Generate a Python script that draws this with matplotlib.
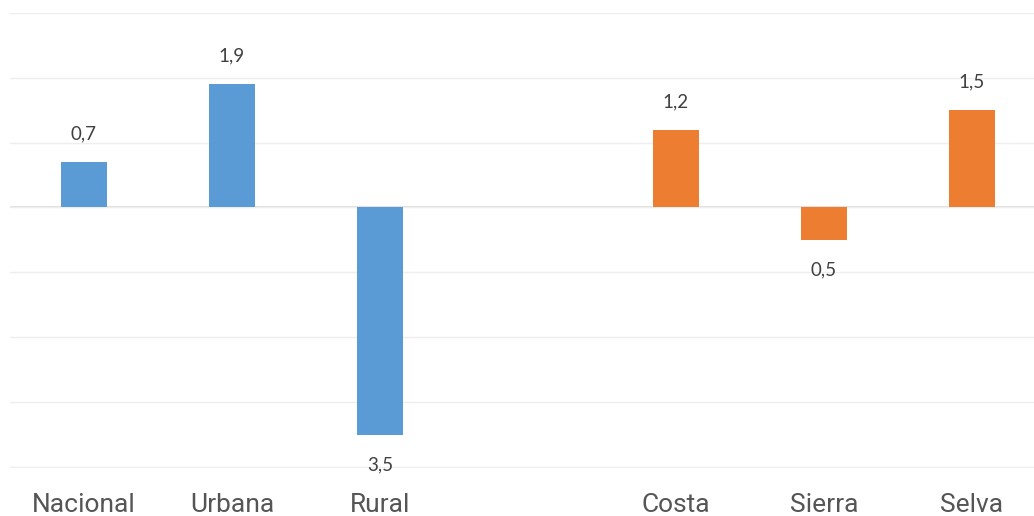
import numpy as np
import matplotlib.pyplot as plt

# Variación por ámbito (urbano/rural) y por región natural
categories = ['Nacional', 'Urbana', 'Rural', 'Costa', 'Sierra', 'Selva']
values = [0.7, 1.9, -3.5, 1.2, -0.5, 1.5]
groups = ['ambito', 'ambito', 'ambito', 'region', 'region', 'region']
group_colors = {'ambito': '#5b9bd5', 'region': '#ed7d31'}

# leave an empty slot between the two groups
x = np.arange(len(categories)) + np.array([0 if g == 'ambito' else 1 for g in groups])

fig = plt.figure(figsize=(10.34, 5.16), dpi=100)
ax = fig.add_axes([10 / 1034, 1 - 468 / 516, 1024 / 1034, (468 - 12.7) / 516])

ax.bar(x, values, width=0.31, color=[group_colors[g] for g in groups], zorder=3)

for xi, v in zip(x, values):
    label = f'{abs(v):.1f}'.replace('.', ',')
    off = 20 if v >= 0 else -21.5
    ax.annotate(label, (xi, v), xytext=(0, off), textcoords='offset points',
                ha='center', va='center', fontsize=13.5, color='#404040',
                family='Lato')

ax.set_xlim(-0.5, 6.42)
ax.set_ylim(-4.015, 3)
ax.set_yticks(range(-4, 4))
ax.yaxis.grid(True, color='#eeeeee', linewidth=1, zorder=0)
ax.axhline(0, color='#d9d9d9', linewidth=1.2, zorder=1)
ax.tick_params(axis='y', left=False, labelleft=False)

ax.set_xticks(x)
ax.set_xticklabels(categories, fontsize=19, color='#555555', family='Roboto')
ax.tick_params(axis='x', length=0, pad=18)

for s in ax.spines.values():
    s.set_visible(False)

plt.savefig('out.png', dpi=100)
